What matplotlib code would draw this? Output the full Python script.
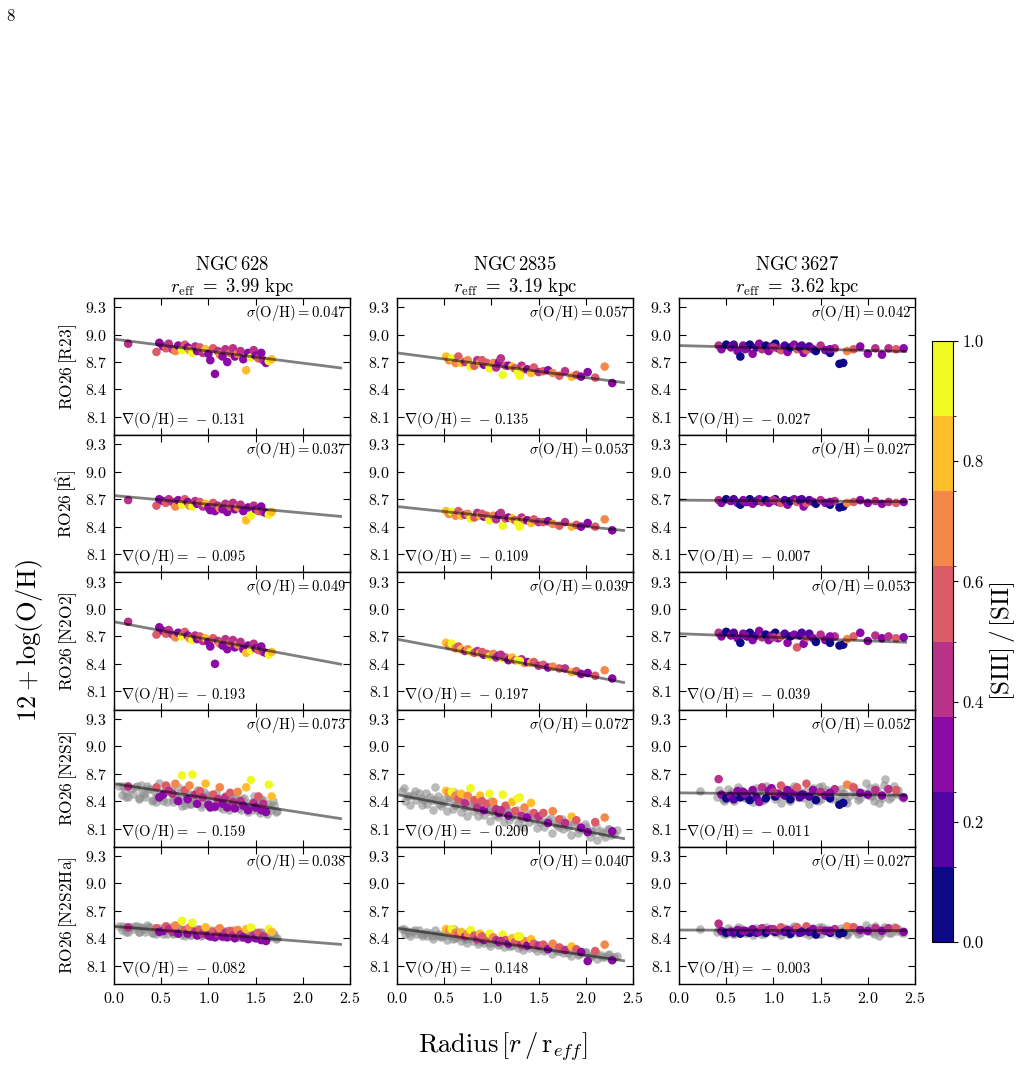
import numpy as np
import matplotlib
matplotlib.use('Agg')
import matplotlib.pyplot as plt
from matplotlib.colors import BoundaryNorm
from matplotlib.cm import ScalarMappable

plt.rcParams['font.family'] = 'serif'
plt.rcParams['font.serif'] = ['cmr10']
plt.rcParams['mathtext.fontset'] = 'cm'
plt.rcParams['axes.formatter.use_mathtext'] = True
plt.rcParams['axes.unicode_minus'] = False


def arr(s):
    return np.array(s.split(), dtype=float)


galaxies = ['NGC$\\,$628', 'NGC$\\,$2835', 'NGC$\\,$3627']
reff = ['3.99', '3.19', '3.62']
calibs = ['RO26$\\,$[R23]', 'RO26$\\,[\\hat{\\rm R}]$', 'RO26$\\,$[N2O2]',
          'RO26$\\,$[N2S2]', 'RO26$\\,$[N2S2Ha]']

# fit results, rows = calibrations, cols = galaxies
sigma = [[0.047, 0.057, 0.042], [0.037, 0.053, 0.027], [0.049, 0.039, 0.053],
         [0.073, 0.072, 0.052], [0.038, 0.040, 0.027]]
grad = [[-0.131, -0.135, -0.027], [-0.095, -0.109, -0.007], [-0.193, -0.197, -0.039],
        [-0.159, -0.200, -0.011], [-0.082, -0.148, -0.003]]
icpt = [[8.95, 8.80, 8.88], [8.74, 8.62, 8.69], [8.86, 8.67, 8.73],
        [8.59, 8.47, 8.49], [8.53, 8.51, 8.49]]

# ---- NGC628 : regions with [SIII] ----
r628 = arr("0.15 0.45 0.48 0.52 0.55 0.58 0.62 0.65 0.68 0.72 0.75 0.78 0.80 0.83 0.86 0.88 0.91 0.94 0.97 1.00 "
           "1.02 1.05 1.07 1.10 1.12 1.15 1.18 1.20 1.23 1.26 1.28 1.31 1.34 1.37 1.40 1.42 1.45 1.48 1.50 1.53 "
           "1.56 1.58 1.61 1.64 1.67")
s628 = arr("0.45 0.55 0.30 0.35 0.62 0.45 0.40 0.70 0.30 0.95 0.50 0.35 0.65 0.92 0.45 0.30 0.55 0.40 0.75 0.35 "
           "0.28 0.50 0.25 0.42 0.70 0.33 0.48 0.30 0.58 0.40 0.30 0.66 0.45 0.35 0.80 0.30 0.88 0.45 0.35 0.60 "
           "0.30 0.45 0.25 0.92 0.78")
oh628_r23 = arr("8.90 8.81 8.91 8.87 8.85 8.90 8.84 8.82 8.88 8.83 8.89 8.86 8.83 8.80 8.87 8.82 8.86 8.80 8.84 8.79 "
                "8.72 8.85 8.57 8.82 8.78 8.76 8.84 8.70 8.80 8.85 8.76 8.79 8.82 8.73 8.61 8.80 8.75 8.83 8.77 8.74 "
                "8.80 8.72 8.69 8.71 8.73")
oh628_rhat = arr("8.69 8.63 8.70 8.68 8.66 8.70 8.67 8.62 8.69 8.64 8.70 8.67 8.63 8.62 8.68 8.65 8.67 8.62 8.65 8.61 "
                 "8.58 8.66 8.57 8.63 8.60 8.59 8.65 8.56 8.62 8.66 8.59 8.61 8.64 8.57 8.47 8.61 8.52 8.63 8.59 8.57 "
                 "8.62 8.56 8.55 8.53 8.56")
oh628_n2o2 = arr("8.86 8.72 8.80 8.76 8.73 8.77 8.72 8.69 8.74 8.70 8.75 8.71 8.68 8.66 8.71 8.67 8.70 8.65 8.68 8.64 "
                 "8.59 8.68 8.40 8.65 8.62 8.60 8.67 8.56 8.63 8.66 8.58 8.61 8.64 8.56 8.52 8.60 8.55 8.62 8.57 8.55 "
                 "8.59 8.53 8.52 8.50 8.53")
oh628_n2s2 = arr("8.56 8.55 8.44 8.47 8.57 8.51 8.48 8.59 8.40 8.68 8.52 8.42 8.57 8.69 8.47 8.37 8.51 8.44 8.59 8.36 "
                 "8.33 8.47 8.34 8.42 8.55 8.37 8.44 8.33 8.49 8.39 8.32 8.50 8.40 8.35 8.55 8.30 8.63 8.38 8.33 8.45 "
                 "8.30 8.37 8.28 8.58 8.45")
oh628_n2s2ha = arr("8.52 8.51 8.47 8.48 8.53 8.50 8.47 8.54 8.45 8.59 8.49 8.45 8.52 8.57 8.47 8.43 8.49 8.45 8.52 8.43 "
                   "8.42 8.47 8.41 8.45 8.51 8.42 8.46 8.41 8.48 8.43 8.40 8.49 8.44 8.41 8.50 8.39 8.52 8.43 8.40 8.46 "
                   "8.38 8.42 8.37 8.50 8.47")
# NGC628 : all regions (grey)
g628_r = arr("0.05 0.08 0.12 0.15 0.18 0.20 0.24 0.27 0.30 0.33 0.36 0.40 0.43 0.46 0.50 0.53 0.56 0.60 0.63 0.66 "
             "0.70 0.73 0.76 0.80 0.83 0.86 0.90 0.93 0.96 1.00 1.03 1.06 1.10 1.13 1.16 1.20 1.23 1.26 1.30 1.33 "
             "1.36 1.40 1.43 1.46 1.50 1.53 1.56 1.60 1.63 1.66 1.70 1.73 0.35 0.55 0.75 0.95 1.15 1.35 1.55 0.45 "
             "0.10 0.22 0.29 0.38 0.48 0.58 0.68 0.78 0.88 0.98 1.08 1.18 1.28 1.38 1.48 1.58 1.68 "
             "0.13 0.26 0.41 0.52 0.62 0.72 0.82 0.92 1.02 1.12 1.22 1.32 1.42 1.52 1.62 1.72 "
             "0.32 0.65 0.85 1.05 1.25 1.45 1.65")
g628_n2s2 = arr("8.56 8.47 8.51 8.44 8.53 8.48 8.56 8.43 8.50 8.44 8.53 8.40 8.50 8.46 8.44 8.51 8.39 8.53 8.42 8.45 "
                "8.49 8.41 8.44 8.37 8.47 8.41 8.49 8.37 8.43 8.37 8.47 8.33 8.43 8.40 8.37 8.44 8.33 8.46 8.35 8.39 "
                "8.42 8.34 8.38 8.30 8.40 8.35 8.42 8.30 8.37 8.30 8.36 8.29 8.57 8.56 8.36 8.50 8.31 8.30 8.27 8.39 "
                "8.56 8.55 8.58 8.53 8.60 8.51 8.55 8.49 8.52 8.47 8.49 8.45 8.47 8.43 8.45 8.41 8.40 "
                "8.44 8.42 8.41 8.40 8.39 8.35 8.37 8.33 8.35 8.34 8.30 8.32 8.28 8.30 8.26 8.28 "
                "8.48 8.44 8.43 8.40 8.38 8.36 8.34")
g628_n2s2ha = arr("8.53 8.49 8.51 8.47 8.52 8.50 8.53 8.47 8.51 8.47 8.52 8.46 8.50 8.49 8.48 8.51 8.45 8.52 8.46 8.48 "
                  "8.50 8.46 8.48 8.44 8.49 8.46 8.50 8.44 8.47 8.44 8.49 8.42 8.47 8.45 8.44 8.48 8.42 8.49 8.43 8.45 "
                  "8.47 8.43 8.44 8.41 8.46 8.43 8.47 8.41 8.44 8.41 8.44 8.40 8.55 8.53 8.43 8.50 8.41 8.41 8.39 8.45 "
                  "8.53 8.53 8.52 8.52 8.51 8.51 8.51 8.50 8.50 8.49 8.49 8.48 8.48 8.47 8.47 8.46 8.46 "
                  "8.47 8.47 8.46 8.45 8.45 8.44 8.44 8.43 8.43 8.42 8.42 8.41 8.41 8.40 8.40 8.39 "
                  "8.50 8.48 8.47 8.46 8.45 8.44 8.43")

# ---- NGC2835 ----
r2835 = arr("0.52 0.55 0.58 0.62 0.65 0.68 0.72 0.75 0.78 0.82 0.85 0.88 0.92 0.95 0.98 1.02 1.05 1.08 1.12 1.15 "
            "1.18 1.22 1.25 1.28 1.32 1.35 1.38 1.42 1.45 1.50 1.55 1.60 1.65 1.72 1.78 1.85 1.90 1.95 2.02 2.10 "
            "2.20 2.28 1.10 1.30 0.90")
s2835 = arr("0.80 0.70 0.88 0.65 0.55 0.75 0.45 0.70 0.95 0.60 0.40 0.78 0.35 0.55 0.90 0.65 0.45 0.35 0.95 0.60 "
            "0.30 0.75 0.50 0.92 0.40 0.65 0.35 0.85 0.55 0.45 0.60 0.30 0.70 0.50 0.40 0.78 0.55 0.35 0.30 0.62 "
            "0.70 0.35 0.45 0.95 0.60")
oh2835_r23 = arr("8.76 8.72 8.74 8.69 8.76 8.69 8.70 8.72 8.65 8.66 8.72 8.69 8.67 8.69 8.63 8.69 8.64 8.70 8.56 8.66 "
                 "8.66 8.65 8.63 8.59 8.66 8.62 8.62 8.58 8.64 8.59 8.60 8.61 8.58 8.55 8.60 8.54 8.56 8.54 8.59 8.53 "
                 "8.65 8.47 8.74 8.55 8.72")
oh2835_rhat = arr("8.57 8.54 8.56 8.52 8.57 8.52 8.53 8.54 8.49 8.50 8.55 8.52 8.51 8.52 8.47 8.52 8.48 8.53 8.41 8.49 "
                  "8.50 8.49 8.47 8.44 8.50 8.47 8.47 8.44 8.48 8.45 8.45 8.46 8.43 8.41 8.45 8.40 8.42 8.40 8.44 8.40 "
                  "8.48 8.36 8.55 8.40 8.54")
oh2835_n2o2 = arr("8.63 8.60 8.62 8.57 8.59 8.56 8.54 8.56 8.53 8.52 8.54 8.52 8.50 8.51 8.48 8.51 8.47 8.49 8.46 8.47 "
                  "8.44 8.47 8.44 8.44 8.45 8.41 8.42 8.41 8.42 8.38 8.39 8.36 8.37 8.35 8.35 8.31 8.32 8.29 8.30 8.27 "
                  "8.33 8.24 8.50 8.43 8.53")
oh2835_n2s2 = arr("8.51 8.49 8.50 8.46 8.42 8.48 8.38 8.46 8.54 8.41 8.33 8.46 8.30 8.37 8.48 8.39 8.31 8.27 8.47 8.35 "
                  "8.24 8.39 8.29 8.43 8.24 8.33 8.22 8.38 8.27 8.23 8.27 8.16 8.29 8.20 8.16 8.23 8.19 8.11 8.06 8.17 "
                  "8.22 8.07 8.30 8.44 8.40")
oh2835_n2s2ha = arr("8.50 8.48 8.50 8.46 8.44 8.47 8.42 8.45 8.49 8.43 8.39 8.45 8.38 8.40 8.45 8.41 8.38 8.36 8.44 8.38 "
                    "8.34 8.40 8.36 8.42 8.33 8.37 8.32 8.39 8.34 8.32 8.33 8.28 8.34 8.30 8.27 8.31 8.28 8.25 8.15 8.26 "
                    "8.33 8.16 8.37 8.42 8.42")
g2835_r = arr("0.05 0.08 0.11 0.14 0.17 0.20 0.23 0.26 0.29 0.32 0.35 0.38 0.41 0.44 0.47 0.50 0.53 0.56 0.59 0.62 "
              "0.65 0.68 0.71 0.74 0.77 0.80 0.83 0.86 0.89 0.92 0.95 0.98 1.01 1.04 1.07 1.10 1.13 1.16 1.19 1.22 "
              "1.25 1.28 1.31 1.34 1.37 1.40 1.44 1.48 1.52 1.56 1.60 1.64 1.68 1.72 1.76 1.80 1.84 1.88 1.92 1.96 "
              "2.00 2.04 2.08 2.12 2.16 2.20 2.25 2.30 0.60 1.00 "
              "0.07 0.19 0.31 0.43 0.55 0.67 0.79 0.91 1.03 1.15 1.27 1.39 1.51 1.63 1.75 1.87 1.99 2.11 2.23 2.33 "
              "0.13 0.25 0.37 0.49 0.61 0.73 0.85 0.97 1.09 1.21 1.33 1.45 1.57 1.69 1.81 1.93 2.05 2.17 2.27 0.40")
g2835_n2s2 = arr("8.51 8.40 8.46 8.36 8.47 8.41 8.49 8.36 8.41 8.37 8.44 8.30 8.41 8.37 8.35 8.42 8.29 8.42 8.31 8.36 "
                 "8.39 8.28 8.34 8.24 8.35 8.29 8.37 8.24 8.29 8.25 8.32 8.18 8.29 8.25 8.23 8.30 8.17 8.30 8.19 8.24 "
                 "8.27 8.16 8.22 8.12 8.23 8.17 8.25 8.11 8.17 8.12 8.19 8.05 8.15 8.12 8.09 8.16 8.03 8.15 8.05 8.09 "
                 "8.12 8.01 8.06 7.97 8.07 8.01 8.09 8.04 8.50 8.40 "
                 "8.54 8.51 8.49 8.46 8.44 8.42 8.39 8.37 8.34 8.32 8.30 8.27 8.25 8.22 8.20 8.18 8.15 8.13 8.10 8.08 "
                 "8.45 8.43 8.41 8.38 8.36 8.33 8.31 8.29 8.26 8.24 8.21 8.19 8.17 8.14 8.12 8.09 8.07 8.05 8.03 8.55")
g2835_n2s2ha = arr("8.50 8.45 8.48 8.43 8.48 8.45 8.49 8.42 8.45 8.42 8.46 8.39 8.44 8.42 8.41 8.45 8.38 8.44 8.39 8.41 "
                   "8.42 8.37 8.40 8.35 8.40 8.37 8.41 8.34 8.37 8.35 8.38 8.31 8.36 8.35 8.33 8.37 8.30 8.36 8.31 8.33 "
                   "8.35 8.29 8.32 8.27 8.32 8.29 8.33 8.26 8.29 8.26 8.30 8.23 8.28 8.26 8.24 8.28 8.21 8.27 8.22 8.24 "
                   "8.25 8.20 8.22 8.17 8.22 8.19 8.23 8.20 8.50 8.43 "
                   "8.50 8.49 8.47 8.45 8.44 8.42 8.41 8.39 8.38 8.36 8.34 8.33 8.31 8.30 8.28 8.27 8.25 8.24 8.22 8.21 "
                   "8.46 8.45 8.43 8.42 8.40 8.39 8.37 8.35 8.34 8.32 8.31 8.29 8.28 8.26 8.24 8.23 8.21 8.20 8.18 8.49")

# ---- NGC3627 ----
r3627 = arr("0.42 0.45 0.50 0.55 0.58 0.62 0.65 0.68 0.72 0.75 0.78 0.82 0.85 0.88 0.92 0.95 0.98 1.02 1.05 1.08 "
            "1.12 1.15 1.18 1.22 1.25 1.28 1.32 1.35 1.38 1.42 1.45 1.50 1.55 1.60 1.65 1.70 1.74 1.78 1.85 1.92 "
            "2.00 2.08 2.15 2.22 2.30 2.38 0.70 1.00 1.30 1.60")
s3627 = arr("0.45 0.30 0.10 0.25 0.15 0.35 0.10 0.30 0.20 0.05 0.35 0.15 0.30 0.45 0.10 0.28 0.35 0.12 0.30 0.50 "
            "0.20 0.32 0.08 0.35 0.55 0.15 0.30 0.62 0.20 0.35 0.10 0.40 0.28 0.05 0.45 0.10 0.08 0.70 0.50 0.35 "
            "0.30 0.45 0.25 0.48 0.50 0.35 0.25 0.40 0.18 0.28")
oh3627_r23 = arr("8.88 8.84 8.89 8.86 8.89 8.82 8.76 8.88 8.85 8.89 8.79 8.86 8.90 8.84 8.88 8.82 8.87 8.90 8.85 8.83 "
                 "8.88 8.81 8.86 8.89 8.84 8.86 8.80 8.83 8.87 8.84 8.82 8.88 8.83 8.80 8.85 8.68 8.69 8.82 8.84 8.87 "
                 "8.79 8.85 8.78 8.85 8.84 8.85 8.84 8.86 8.88 8.84")
oh3627_rhat = arr("8.69 8.66 8.70 8.68 8.70 8.66 8.64 8.69 8.67 8.70 8.65 8.68 8.70 8.67 8.69 8.66 8.68 8.70 8.67 8.66 "
                  "8.69 8.64 8.68 8.70 8.67 8.69 8.62 8.66 8.69 8.67 8.65 8.69 8.66 8.64 8.68 8.61 8.62 8.66 8.67 8.69 "
                  "8.66 8.68 8.65 8.67 8.66 8.67 8.67 8.69 8.70 8.67")
oh3627_n2o2 = arr("8.74 8.70 8.75 8.71 8.74 8.68 8.63 8.73 8.70 8.74 8.66 8.71 8.76 8.69 8.72 8.66 8.71 8.74 8.68 8.70 "
                  "8.73 8.63 8.70 8.72 8.58 8.71 8.62 8.69 8.73 8.68 8.64 8.72 8.66 8.63 8.70 8.60 8.61 8.67 8.70 8.74 "
                  "8.65 8.71 8.68 8.70 8.68 8.69 8.71 8.69 8.74 8.70")
oh3627_n2s2 = arr("8.64 8.47 8.43 8.46 8.42 8.51 8.44 8.50 8.45 8.41 8.52 8.44 8.39 8.55 8.43 8.51 8.54 8.45 8.48 8.57 "
                  "8.46 8.52 8.42 8.49 8.55 8.44 8.47 8.59 8.45 8.52 8.41 8.50 8.46 8.43 8.53 8.36 8.38 8.58 8.55 8.49 "
                  "8.47 8.52 8.46 8.53 8.52 8.44 8.48 8.50 8.47 8.49")
oh3627_n2s2ha = arr("8.56 8.48 8.46 8.47 8.46 8.49 8.45 8.48 8.47 8.46 8.50 8.46 8.47 8.51 8.46 8.49 8.50 8.47 8.48 8.52 "
                    "8.47 8.49 8.45 8.49 8.52 8.46 8.48 8.53 8.47 8.50 8.44 8.49 8.48 8.46 8.50 8.45 8.46 8.53 8.52 8.49 "
                    "8.48 8.51 8.48 8.51 8.51 8.47 8.48 8.50 8.47 8.48")
g3627_r = arr("0.22 0.40 0.45 0.50 0.55 0.60 0.65 0.70 0.75 0.80 0.85 0.90 0.95 1.00 1.05 1.10 1.15 1.20 1.25 1.30 "
              "1.35 1.40 1.45 1.50 1.55 1.60 1.65 1.70 1.75 1.80 1.85 1.90 1.95 2.00 2.05 2.10 2.15 2.20 2.25 2.30 "
              "2.35 0.48 0.62 0.78 0.92 1.08 1.22 1.38 1.52 1.68 1.82 1.98 2.12 2.28 0.58 0.88 1.18 1.48 1.78 2.08 "
              "0.42 0.52 0.67 0.82 0.97 1.12 1.27 1.42 1.57 1.72 1.87 2.02 2.17 2.32 "
              "0.47 0.57 0.72 0.87 1.02 1.17 1.32 1.47 1.62 1.77 1.92 2.07 2.22 2.37 "
              "0.53 0.68 0.83 0.98 1.13 1.28 1.43 1.58 1.73 1.88 2.03 2.18")
g3627_n2s2 = arr("8.51 8.44 8.48 8.42 8.50 8.46 8.52 8.43 8.49 8.45 8.51 8.41 8.49 8.47 8.45 8.52 8.43 8.53 8.44 8.48 "
                 "8.51 8.44 8.48 8.42 8.50 8.46 8.52 8.43 8.49 8.45 8.51 8.41 8.49 8.47 8.45 8.52 8.43 8.53 8.44 8.48 "
                 "8.46 8.40 8.55 8.39 8.56 8.38 8.57 8.37 8.56 8.39 8.57 8.60 8.38 8.56 8.40 8.53 8.40 8.55 8.38 8.55 "
                 "8.52 8.53 8.51 8.54 8.52 8.53 8.51 8.54 8.52 8.53 8.51 8.54 8.58 8.52 "
                 "8.42 8.41 8.43 8.40 8.42 8.41 8.43 8.40 8.42 8.41 8.43 8.40 8.42 8.43 "
                 "8.47 8.46 8.48 8.47 8.46 8.48 8.47 8.46 8.48 8.47 8.46 8.64")
g3627_n2s2ha = arr("8.50 8.47 8.48 8.45 8.49 8.47 8.50 8.46 8.49 8.47 8.50 8.45 8.49 8.48 8.47 8.50 8.46 8.51 8.46 8.48 "
                   "8.50 8.46 8.48 8.45 8.49 8.47 8.50 8.46 8.49 8.47 8.50 8.45 8.49 8.48 8.47 8.50 8.46 8.51 8.46 8.48 "
                   "8.47 8.45 8.52 8.44 8.52 8.44 8.53 8.44 8.52 8.44 8.52 8.54 8.43 8.52 8.45 8.51 8.45 8.52 8.44 8.53 "
                   "8.50 8.51 8.50 8.51 8.50 8.51 8.50 8.51 8.50 8.51 8.50 8.51 8.52 8.50 "
                   "8.46 8.45 8.46 8.45 8.46 8.45 8.46 8.45 8.46 8.45 8.46 8.45 8.46 8.46 "
                   "8.48 8.48 8.48 8.48 8.48 8.48 8.48 8.48 8.48 8.48 8.48 8.50")

radii = [r628, r2835, r3627]
ratios = [s628, s2835, s3627]
oh = [[oh628_r23, oh628_rhat, oh628_n2o2, oh628_n2s2, oh628_n2s2ha],
      [oh2835_r23, oh2835_rhat, oh2835_n2o2, oh2835_n2s2, oh2835_n2s2ha],
      [oh3627_r23, oh3627_rhat, oh3627_n2o2, oh3627_n2s2, oh3627_n2s2ha]]
grey_r = [g628_r, g2835_r, g3627_r]
grey_oh = [[g628_n2s2, g628_n2s2ha], [g2835_n2s2, g2835_n2s2ha], [g3627_n2s2, g3627_n2s2ha]]

W, H = 1019, 1082
fig = plt.figure(figsize=(W / 100, H / 100), dpi=100)


def box(x0, y0, x1, y1):
    return [x0 / W, 1 - y1 / H, (x1 - x0) / W, (y1 - y0) / H]


cmap = plt.get_cmap('plasma').resampled(8)
norm = BoundaryNorm(np.linspace(0, 1, 9), 8)

lefts = [114, 397, 679]
pw = 236
top = 298
ph = 137.2

for j in range(3):
    for i in range(5):
        y0 = top + i * ph
        ax = fig.add_axes(box(lefts[j], y0, lefts[j] + pw, y0 + ph))
        if i >= 3:
            ax.scatter(grey_r[j], grey_oh[j][i - 3], s=38, c='0.55', alpha=0.6, lw=0, zorder=1)
        ax.scatter(radii[j], oh[j][i], c=ratios[j], cmap=cmap, norm=norm, s=38, lw=0, zorder=2)
        xx = np.array([0.0, 2.4])
        ax.plot(xx, icpt[i][j] + grad[i][j] * xx, color='k', alpha=0.5, lw=2, zorder=3)
        ax.set_xlim(0, 2.5)
        ax.set_ylim(7.9, 9.4)
        ax.set_xticks([0, 0.5, 1.0, 1.5, 2.0, 2.5])
        ax.set_yticks([8.1, 8.4, 8.7, 9.0, 9.3])
        ax.tick_params(direction='in', top=True, right=True, length=5, width=0.8,
                       labelsize=11.5, pad=5)
        if i < 4:
            ax.tick_params(labelbottom=False)
        for sp in ax.spines.values():
            sp.set_linewidth(1.0)
        ax.text(0.985, 0.89, r'$\sigma{\rm (O/H)} = %.3f$' % sigma[i][j], transform=ax.transAxes,
                ha='right', va='center', fontsize=10.5)
        ax.text(0.03, 0.11, r'$\nabla{\rm (O/H)} =\,-\,%.3f$' % abs(grad[i][j]), transform=ax.transAxes,
                ha='left', va='center', fontsize=10.5)
        if j == 0:
            ax.set_ylabel(calibs[i], fontsize=12.5, labelpad=4)
        if i == 0:
            ax.set_title(galaxies[j] + '\n' + r'$r_{\rm eff}\ =\ %s\ {\rm kpc}$' % reff[j],
                         fontsize=13.5, pad=3, linespacing=1.1)

cax = fig.add_axes(box(932, 341, 953, 942))
cb = fig.colorbar(ScalarMappable(norm=norm, cmap=cmap), cax=cax, ticks=[0, 0.2, 0.4, 0.6, 0.8, 1.0])
cb.ax.tick_params(labelsize=12)
cb.ax.set_yticklabels(['0.0', '0.2', '0.4', '0.6', '0.8', '1.0'])
cb.set_label(r'$[{\rm SIII}]\,/\,[{\rm SII}]$', fontsize=18, labelpad=3)

fig.text(30 / W, 1 - 640 / H, r'$12 + \log({\rm O/H})$', rotation=90, ha='center', va='center', fontsize=19)
fig.text(503 / W, 1 - 1047 / H, r'${\rm Radius}\,[r\,/\,{\rm r}_{eff}]$', ha='center', va='center', fontsize=19)
fig.text(6 / W, 1 - 16 / H, '8', ha='left', va='center', fontsize=12)

fig.savefig('out.png', dpi=100)
